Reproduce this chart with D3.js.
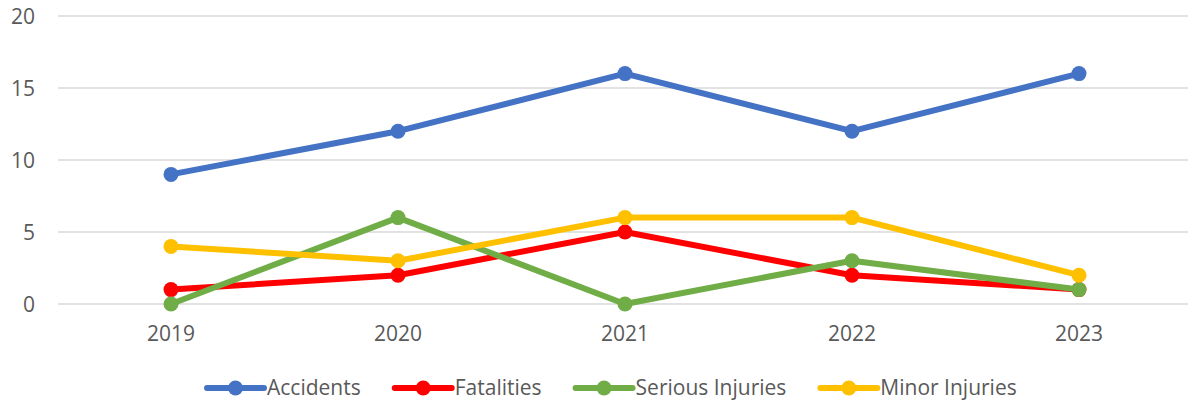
<!DOCTYPE html>
<html><head><meta charset="utf-8">
<script src="https://cdn.jsdelivr.net/npm/d3@7"></script>
<style>body{margin:0;background:#fff}svg{display:block}text{font-family:"Open Sans",sans-serif;fill:#595959}</style>
</head><body><svg id="c" width="1188" height="401"></svg>
<script>
const years = ["2019","2020","2021","2022","2023"];
const accidents = [9, 12, 16, 12, 16];
const fatalities = [1, 2, 5, 2, 1];
const seriousInjuries = [0, 6, 0, 3, 1];
const minorInjuries = [4, 3, 6, 6, 2];
const yTicks = [0, 5, 10, 15, 20];
const seriesNames = ["Accidents","Fatalities","Serious Injuries","Minor Injuries"];
const colors = ["#4472C4","#FF0000","#70AD47","#FFC000"];
const seriesData = [accidents, fatalities, seriousInjuries, minorInjuries];

const svg = d3.select("#c");
const x = d3.scaleBand().domain(years).range([57.5, 1192.5]);
const y = d3.scaleLinear().domain([0, 20]).range([304, 16]);
const fs = "21px";

const grid = svg.append("g");
grid.selectAll("line").data(yTicks).join("line")
  .attr("x1", 58).attr("x2", 1188)
  .attr("y1", d => y(d)).attr("y2", d => y(d))
  .attr("stroke", "#D9D9D9").attr("stroke-width", 1.3);

const yAxis = svg.append("g").attr("transform", "translate(35,0)")
  .call(d3.axisLeft(y).tickValues(yTicks).tickSize(0).tickPadding(0));
yAxis.select(".domain").remove();
yAxis.selectAll("text").style("font-size", fs).attr("font-family", null).attr("dy", "0.35em");

const xAxis = svg.append("g").attr("transform", "translate(0,334)")
  .call(d3.axisBottom(x).tickSize(0).tickPadding(0));
xAxis.select(".domain").remove();
xAxis.selectAll("text").style("font-size", fs).attr("font-family", null).attr("dy", "0.35em");

const line = d3.line().x((d, i) => x(years[i]) + x.bandwidth() / 2).y(d => y(d));
seriesData.forEach((s, k) => {
  const g = svg.append("g");
  g.append("path").datum(s).attr("d", line).attr("fill", "none")
    .attr("stroke", colors[k]).attr("stroke-width", 6).attr("stroke-linejoin", "round").attr("stroke-linecap", "round");
  g.selectAll("circle").data(s).join("circle")
    .attr("cx", (d, i) => x(years[i]) + x.bandwidth() / 2).attr("cy", d => y(d))
    .attr("r", 7.5).attr("fill", colors[k]);
});

// legend
const leg = svg.append("g");
let lx = 207;
const ly = 388;
seriesNames.forEach((n, k) => {
  const g = leg.append("g");
  g.append("line").attr("x1", lx).attr("x2", lx + 57).attr("y1", ly).attr("y2", ly)
    .attr("stroke", colors[k]).attr("stroke-width", 6).attr("stroke-linecap", "round");
  g.append("circle").attr("cx", lx + 28.5).attr("cy", ly).attr("r", 7.5).attr("fill", colors[k]);
  const t = g.append("text").attr("x", lx + 60).attr("y", ly).attr("dy", "0.35em")
    .style("font-size", fs).text(n);
  lx += 60 + t.node().getComputedTextLength() + 34;
});
</script></body></html>
